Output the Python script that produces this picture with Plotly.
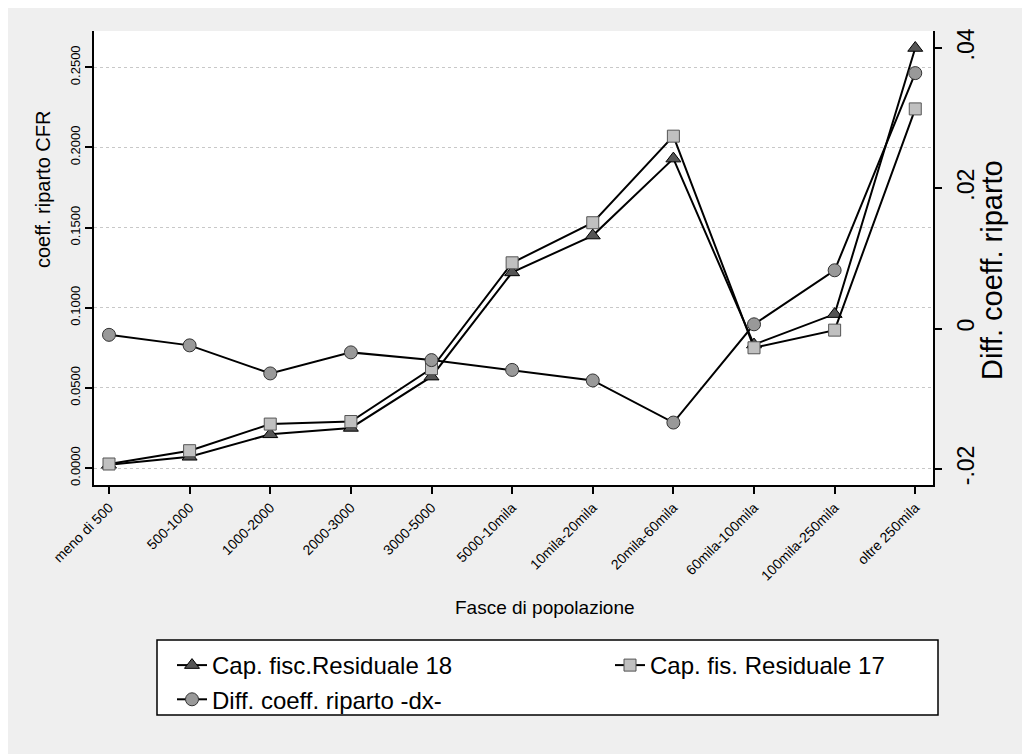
import plotly.graph_objects as go

categories = ["meno di 500", "500-1000", "1000-2000", "2000-3000", "3000-5000",
              "5000-10mila", "10mila-20mila", "20mila-60mila", "60mila-100mila",
              "100mila-250mila", "oltre 250mila"]
cap18 = [0.002, 0.007, 0.021, 0.025, 0.057, 0.122, 0.145, 0.193, 0.077, 0.096, 0.262]
cap17 = [0.0025, 0.0108, 0.0274, 0.029, 0.062, 0.128, 0.153, 0.207, 0.075, 0.086, 0.224]
diff = [-0.0009, -0.0024, -0.0064, -0.0034, -0.0045, -0.0059, -0.0074, -0.0134, 0.0006, 0.0083, 0.0364]

left_ticks = [0.0, 0.05, 0.10, 0.15, 0.20, 0.25]
right_ticks = [-0.02, 0.0, 0.02, 0.04]
right_ticktext = ["-.02", "0", ".02", ".04"]

FONT = "Liberation Sans, Arial, sans-serif"

fig = go.Figure()
fig.add_trace(go.Scatter(
    x=categories, y=cap18, name="Cap. fisc.Residuale 18", mode="lines+markers",
    line=dict(color="black", width=2), legend="legend",
    marker=dict(symbol="triangle-up", size=13, color="#555555", line=dict(color="black", width=1)),
))
fig.add_trace(go.Scatter(
    x=categories, y=cap17, name="Cap. fis. Residuale 17", mode="lines+markers",
    line=dict(color="black", width=2), legend="legend2",
    marker=dict(symbol="square", size=12, color="#c0c0c0", line=dict(color="#555555", width=1)),
))
fig.add_trace(go.Scatter(
    x=categories, y=diff, name="Diff. coeff. riparto -dx-", mode="lines+markers", yaxis="y2",
    line=dict(color="black", width=2), legend="legend",
    marker=dict(symbol="circle", size=13, color="#999999", line=dict(color="#333333", width=1)),
))

# page offset (browser body margin)
OFF = 8
W, H = 1030, 754
# plot area in page pixels
PX0, PX1, PY0, PY1 = 94, 933, 31, 485
L = PX0 - OFF
R = W - (PX1 - OFF)
T = PY0 - OFF
B = H - (PY1 - OFF)
pw = PX1 - PX0
ph = PY1 - PY0

def px_x(x):
    return (x - PX0) / pw

def px_y(y):
    return (PY1 - y) / ph

fig.update_layout(
    width=W, height=H,
    margin=dict(l=L, r=R, t=T, b=B),
    paper_bgcolor="#efefef",
    plot_bgcolor="white",
    font=dict(family=FONT, color="black"),
    showlegend=True,
    xaxis=dict(
        type="category", categoryorder="array", categoryarray=categories,
        range=[-0.186, 10.22],
        showline=True, linecolor="black", linewidth=2,
        ticks="outside", ticklen=7, tickwidth=2, tickcolor="black",
        tickangle=-45, tickfont=dict(size=14, family=FONT),
        showgrid=False, zeroline=False,
    ),
    yaxis=dict(
        range=[-0.0106, 0.2726],
        tickvals=left_ticks, tickformat=".4f",
        showline=True, linecolor="black", linewidth=2,
        ticks="outside", ticklen=7, tickwidth=2, tickcolor="black",
        tickangle=-90, tickfont=dict(size=13, family=FONT),
        showgrid=True, gridcolor="#c8c8c8", gridwidth=1, griddash="dot",
        zeroline=False,
    ),
    yaxis2=dict(
        range=[-0.0223, 0.0424], overlaying="y", side="right",
        tickvals=right_ticks, ticktext=right_ticktext,
        showline=True, linecolor="black", linewidth=2,
        ticks="outside", ticklen=7, tickwidth=2, tickcolor="black",
        tickangle=-90, tickfont=dict(size=23, family=FONT),
        ticklabelstandoff=4,
        showgrid=False, zeroline=False,
    ),
    legend=dict(
        orientation="v", x=px_x(172), y=px_y(643), xanchor="left", yanchor="top",
        bgcolor="rgba(0,0,0,0)", borderwidth=0,
        font=dict(size=24, family=FONT), traceorder="normal",
    ),
    legend2=dict(
        orientation="v", x=px_x(610), y=px_y(643), xanchor="left", yanchor="top",
        bgcolor="rgba(0,0,0,0)", borderwidth=0,
        font=dict(size=24, family=FONT),
    ),
    shapes=[
        dict(type="rect", xref="paper", yref="paper",
             x0=px_x(157), x1=px_x(938), y0=px_y(715), y1=px_y(640),
             fillcolor="white", line=dict(color="black", width=1.5), layer="below"),
    ],
    annotations=[
        dict(text="coeff. riparto CFR", x=px_x(43), y=px_y(190), xref="paper", yref="paper",
             showarrow=False, textangle=-90, font=dict(size=20, family=FONT),
             xanchor="center", yanchor="middle"),
        dict(text="Diff. coeff. riparto", x=px_x(992), y=px_y(270), xref="paper", yref="paper",
             showarrow=False, textangle=-90, font=dict(size=29, family=FONT),
             xanchor="center", yanchor="middle"),
        dict(text="Fasce di popolazione", x=px_x(545), y=px_y(607), xref="paper", yref="paper",
             showarrow=False, font=dict(size=19, family=FONT),
             xanchor="center", yanchor="middle"),
    ],
)

fig.write_html("out.html")
